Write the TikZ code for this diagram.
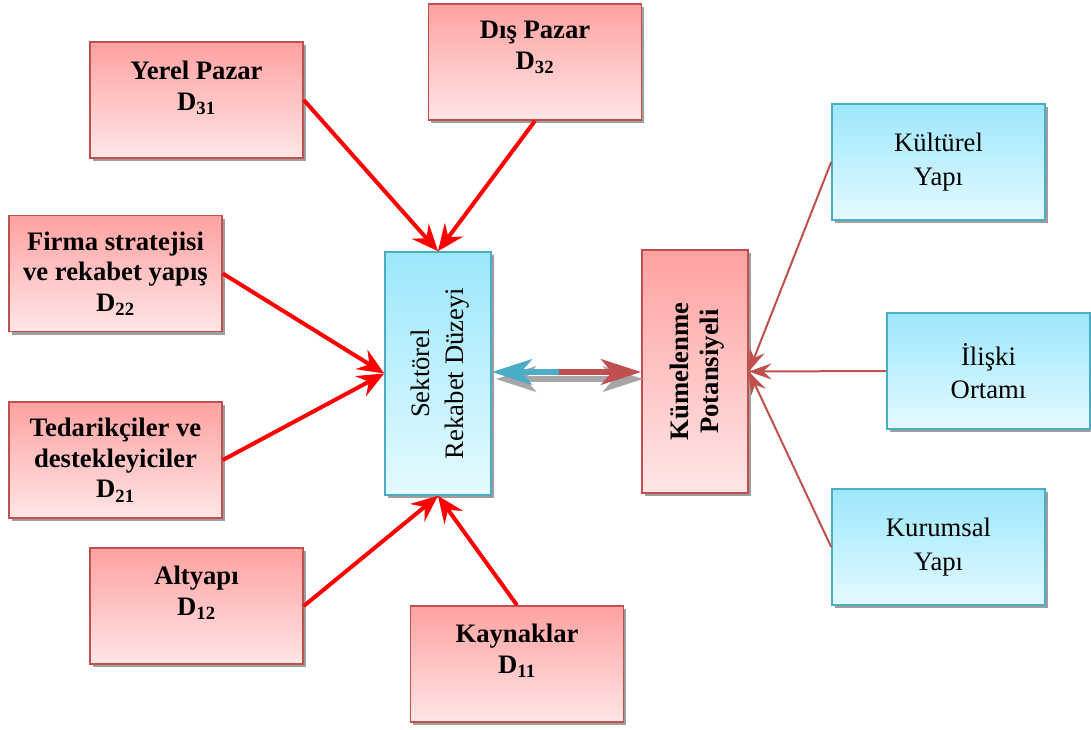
\documentclass[tikz,border=0pt]{standalone}
\usepackage{fontspec}
\setmainfont{Liberation Serif}
\usetikzlibrary{arrows.meta,shadows,positioning}
\definecolor{pinkedge}{HTML}{C0504D}
\definecolor{pinktop}{HTML}{FFA1A1}
\definecolor{pinkbot}{HTML}{FFE6E6}
\definecolor{cyanedge}{HTML}{4BACC6}
\definecolor{cyantop}{HTML}{9CE7FC}
\definecolor{cyanbot}{HTML}{E4FAFF}

\begin{document}
\begin{tikzpicture}[x=0.75pt,y=-0.75pt,
	box/.style={rectangle,line width=1.2pt,minimum width=159.75pt,minimum height=87pt,inner sep=0pt,
		drop shadow={fill=black!38,opacity=1,shadow xshift=2pt,shadow yshift=-2.5pt}},
	pbox/.style={box,draw=pinkedge,top color=pinktop,bottom color=pinkbot},
	cbox/.style={box,draw=cyanedge,top color=cyantop,bottom color=cyanbot},
	tall/.style={minimum width=79.5pt,minimum height=182.25pt},
	btext/.style={font=\fontsize{20pt}{23pt}\selectfont\bfseries,align=center},
	ntext/.style={font=\fontsize{20pt}{25pt}\selectfont,align=center},
	toward/.style={draw=red,line width=3pt,-{Stealth[length=20pt,width=17pt,inset=7pt]}},
	feed/.style={draw=pinkedge,line width=1.5pt,-{Stealth[length=17pt,width=12pt,inset=6pt]}},
	dbl/.style={line width=5pt,-{Stealth[length=30pt,width=19pt,inset=8pt]}}
	]

	\useasboundingbox (0,0) rectangle (1091,729);

	% left side
	\node[pbox,label={[btext,yshift=9pt]center:Yerel Pazar\\D\textsubscript{31}}] (yer) at (196.5,100) {};
	\node[pbox,label={[btext,yshift=11pt]center:Dış Pazar\\D\textsubscript{32}}] (dis) at (535,62) {};
	\node[pbox,label={[btext]center:Firma stratejisi\\ve rekabet yapış\\D\textsubscript{22}}] (fir) at (115.5,273.5) {};
	\node[pbox,label={[btext]center:Tedarikçiler ve\\destekleyiciler\\D\textsubscript{21}}] (ted) at (115.5,460) {};
	\node[pbox,label={[btext,yshift=10pt]center:Altyapı\\D\textsubscript{12}}] (alt) at (196.5,606) {};
	\node[pbox,label={[btext,yshift=10pt]center:Kaynaklar\\D\textsubscript{11}}] (kay) at (517,664) {};

	% middle
	\node[cbox,tall] (sek) at (438,373.5) {};
	\node[ntext,rotate=90] (sektxt) at ([xshift=1.5pt]sek) {Sektörel\\Rekabet Düzeyi};
	\node[pbox,tall] (kum) at (695,371.5) {};
	\node[btext,rotate=90] (kumtxt) at ([xshift=1.5pt]kum) {Kümelenme\\Potansiyeli};

	% right side
	\node[cbox,label={[ntext]center:Kültürel\\Yapı}] (kul) at (938.5,162) {};
	\node[cbox,minimum width=152.25pt,label={[ntext]center:İlişki\\Ortamı}] (ili) at (988.5,371) {};
	\node[cbox,label={[ntext]center:Kurumsal\\Yapı}] (kur) at (938.5,547) {};

	\draw[toward] (yer.east) -- (sek.north);
	\draw[toward] (dis.south) -- (sek.north);
	\draw[toward] (fir.east) -- (sek.west);
	\draw[toward] (ted.east) -- (sek.west);
	\draw[toward] (alt.east) -- (sek.south);
	\draw[toward] (kay.north) -- (sek.south);

	% double arrow with its shadow
	\coordinate (mid) at (560,372);
	\draw[line width=5pt,black!35,{Stealth[length=30pt,width=19pt,inset=8pt]}-{Stealth[length=30pt,width=19pt,inset=8pt]}]
		([shift={(4,7)}]sek.east |- mid) -- ([shift={(2,7)}]kum.west |- mid);
	\draw[dbl,cyanedge] (mid) -- (sek.east |- mid);
	\draw[dbl,pinkedge] ([xshift=-1pt]mid) -- (kum.west |- mid);

	\draw[feed] (kul.west) -- (kum.east);
	\draw[feed] (ili.west) -- (kum.east);
	\draw[feed] (kur.west) -- (kum.east);

\end{tikzpicture}
\end{document}
